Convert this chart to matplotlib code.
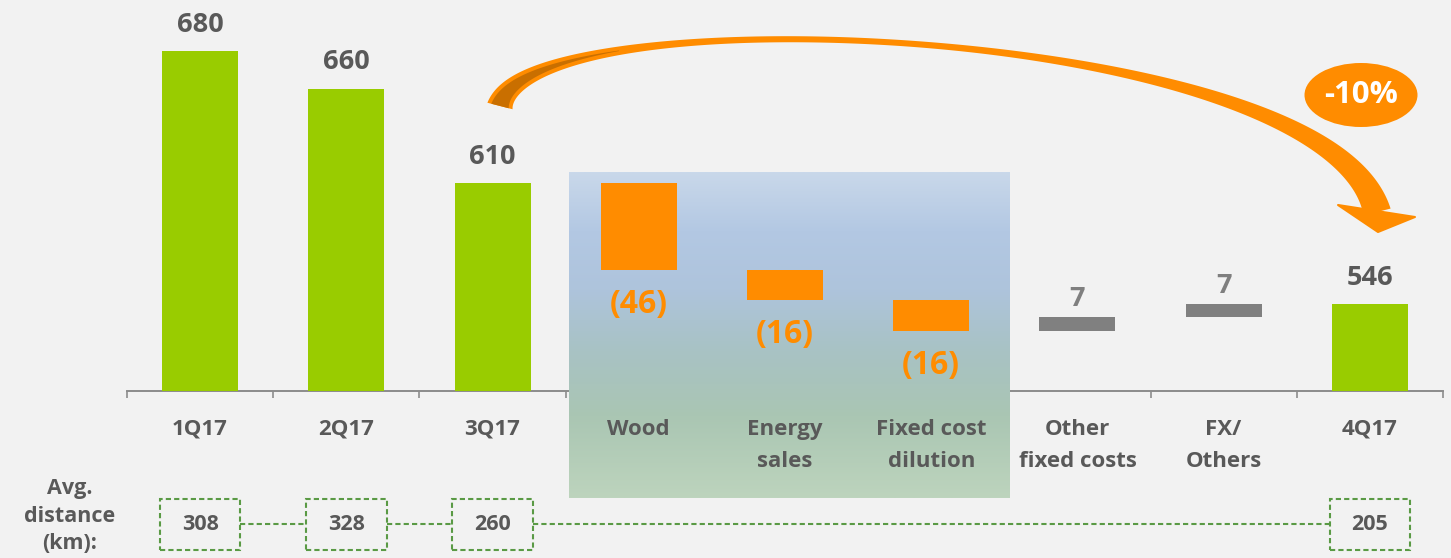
import numpy as np
import matplotlib
matplotlib.use("Agg")
import matplotlib.pyplot as plt
from matplotlib.patches import Rectangle, Ellipse, Polygon
from matplotlib.colors import LinearSegmentedColormap

# ---------------- data ----------------
categories = ["1Q17", "2Q17", "3Q17", "Wood", "Energy\nsales", "Fixed cost\ndilution",
              "Other\nfixed costs", "FX/\nOthers", "4Q17"]
values = [680, 660, 610, -46, -16, -16, 7, 7, 546]
kinds = ["total", "total", "total", "delta", "delta", "delta", "delta", "delta", "total"]
value_labels = ["680", "660", "610", "(46)", "(16)", "(16)", "7", "7", "546"]
distance_idx = [0, 1, 2, 8]
distance_vals = [308, 328, 260, 205]
change_label = "-10%"

# ---------------- style ----------------
W, H = 1451, 558
BG = "#F2F2F2"
GREEN = "#99CC00"
ORANGE = "#FF8C00"
GRAY_BAR = "#808080"
TXT = "#595959"
DASH_GREEN = "#5A9A45"
FONT = ["Open Sans", "DejaVu Sans"]
plt.rcParams["font.family"] = FONT

fig = plt.figure(figsize=(W / 100, H / 100), dpi=100, facecolor=BG)
px_per_unit = 1.888
y0 = 500
ax = fig.add_axes([127 / W, (H - 391) / H, (1443 - 127) / W, 391 / H])
ax.set_facecolor("none")

# waterfall geometry
bottoms, heights, colors = [], [], []
running = 0
for v, k in zip(values, kinds):
    if k == "total":
        bottoms.append(0)
        heights.append(v)
        colors.append(GREEN)
        running = v
    else:
        bottoms.append(min(running, running + v))
        heights.append(abs(v))
        colors.append(ORANGE if v < 0 else GRAY_BAR)
        running += v

x = np.arange(len(categories))
ax.bar(x, heights, bottom=bottoms, width=0.52, color=colors, zorder=3)

# gradient highlight box
stops = [(0.0, "#C9D8EA"), (0.18, "#B3C8E3"), (0.36, "#AEC4DC"), (0.55, "#A8C2C4"),
         (0.75, "#AAC6B3"), (1.0, "#BDD4BD")]
cmap = LinearSegmentedColormap.from_list("hl", stops)
grad = np.linspace(0, 1, 256).reshape(-1, 1)
im = ax.imshow(grad, cmap=cmap, origin="upper", aspect="auto",
               extent=(2.52, 5.53, y0 - (498 - 391) / px_per_unit, y0 + (391 - 173) / px_per_unit),
               zorder=2.6, interpolation="bilinear")
im.set_clip_on(False)
ax.set_xlim(-0.5, len(categories) - 0.5)
ax.set_ylim(y0, y0 + 391 / px_per_unit)

# axes styling
for s in ["top", "right", "left"]:
    ax.spines[s].set_visible(False)
ax.spines["bottom"].set_color("#8C8C8C")
ax.spines["bottom"].set_linewidth(1.4)
ax.set_yticks([])
ax.set_xticks(np.arange(-0.5, len(categories)))
ax.set_xticklabels([])
ax.tick_params(axis="x", direction="out", length=5, width=1.2, color="#8C8C8C")

# category labels
for i, lab in enumerate(categories):
    ax.annotate(lab, xy=(i, 0), xycoords=("data", "axes fraction"), xytext=(0, -20),
                textcoords="offset points", ha="center", va="top", fontsize=16,
                fontweight="bold", color=TXT, linespacing=1.72, zorder=5)

# value labels
for i, (v, k, lab) in enumerate(zip(values, kinds, value_labels)):
    top = bottoms[i] + heights[i]
    if k == "total":
        ax.annotate(lab, xy=(i, top), xytext=(0, 14), textcoords="offset points",
                    ha="center", va="baseline", fontsize=19.5, fontweight="bold", color=TXT, zorder=5)
    elif v < 0:
        ax.annotate(lab, xy=(i, bottoms[i]), xytext=(0, -31), textcoords="offset points",
                    ha="center", va="baseline", fontsize=23, fontweight="bold", color=ORANGE, zorder=5)
    else:
        ax.annotate(lab, xy=(i, top), xytext=(0, 8), textcoords="offset points",
                    ha="center", va="baseline", fontsize=19.5, fontweight="bold", color="#7F7F7F", zorder=5)

# average distance row
box_w, box_h = 0.55, 51 / px_per_unit
yc = y0 - (524 - 391) / px_per_unit
ls = (0, (2.5, 1.5))
for j, (i, d) in enumerate(zip(distance_idx, distance_vals)):
    r = Rectangle((i - box_w / 2, yc - box_h / 2), box_w, box_h, fill=False,
                  edgecolor=DASH_GREEN, lw=1.5, linestyle=ls, clip_on=False, zorder=4)
    ax.add_patch(r)
    ax.text(i, yc, str(d), ha="center", va="center", fontsize=15.5, fontweight="bold",
            color=TXT, clip_on=False, zorder=5)
    if j > 0:
        p = distance_idx[j - 1]
        ax.plot([p + box_w / 2, i - box_w / 2], [yc, yc], color=DASH_GREEN, lw=1.5,
                linestyle=ls, clip_on=False, zorder=4)

fig.text(70 / W, 1 - 516 / H, "Avg.\ndistance\n(km):", ha="center", va="center",
         fontsize=15.5, fontweight="bold", color=TXT, linespacing=1.4)

# curved arrow (image pixel coords -> figure fraction)
def to_fig(pts):
    pts = np.asarray(pts, float)
    return np.column_stack([pts[:, 0] / W, 1 - pts[:, 1] / H])

P = [np.array(p, float) for p in [(500, 106), (530, -10), (1330, 25), (1377, 212)]]
t = np.linspace(0, 1, 300)[:, None]
pts = (1 - t) ** 3 * P[0] + 3 * (1 - t) ** 2 * t * P[1] + 3 * (1 - t) * t ** 2 * P[2] + t ** 3 * P[3]
d = 3 * (1 - t) ** 2 * (P[1] - P[0]) + 6 * (1 - t) * t * (P[2] - P[1]) + 3 * t ** 2 * (P[3] - P[2])
nrm = np.column_stack([-d[:, 1], d[:, 0]])
nrm /= np.linalg.norm(nrm, axis=1, keepdims=True)
tt = t[:, 0]
w = np.where(tt < 0.45, 6 + 20 * ((0.45 - tt) / 0.45) ** 3, 6 + 22 * ((tt - 0.45) / 0.55) ** 2)
left = pts + nrm * (w / 2)[:, None]
right = pts - nrm * (w / 2)[:, None]
ribbon = np.vstack([left, right[::-1]])
fig.add_artist(Polygon(to_fig(ribbon), closed=True, transform=fig.transFigure,
                       facecolor=ORANGE, edgecolor="none", zorder=6))
mask = (w > 8.5) & (tt < 0.45)
wd = (w - 8)[mask]
l2 = pts[mask] + nrm[mask] * (wd / 2)[:, None]
r2 = pts[mask] - nrm[mask] * (wd / 2)[:, None]
fig.add_artist(Polygon(to_fig(np.vstack([l2, r2[::-1]])), closed=True, transform=fig.transFigure,
                       facecolor="#C96F00", edgecolor="none", zorder=7))
head = [(1338, 205), (1415, 217), (1378, 232)]
fig.add_artist(Polygon(to_fig(head), closed=True, transform=fig.transFigure,
                       facecolor=ORANGE, edgecolor=ORANGE, lw=1.5, joinstyle="round", zorder=6))

# -10% bubble
fig.add_artist(Ellipse((1361 / W, 1 - 95 / H), 113 / W, 64 / H, transform=fig.transFigure,
                       facecolor=ORANGE, edgecolor="none", zorder=6))
fig.text(1361 / W, 1 - 95 / H, change_label, ha="center", va="center", fontsize=22.5,
         fontweight="bold", color="white", zorder=7)

fig.savefig("out.png", dpi=100, facecolor=BG)
